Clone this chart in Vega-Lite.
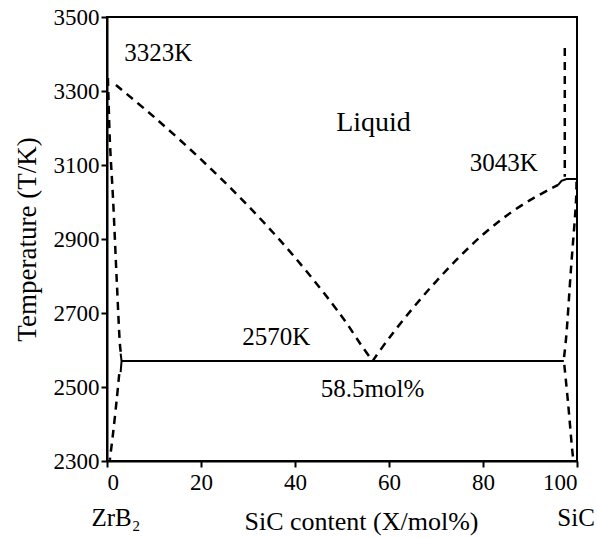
{
  "$schema": "https://vega.github.io/schema/vega-lite/v6.json",
  "width": 470,
  "height": 444,
  "autosize": {"type": "none"},
  "padding": {"left": 107, "top": 17, "right": 20, "bottom": 77},
  "background": "white",
  "config": {
    "font": "Liberation Serif",
    "view": {"stroke": "black", "strokeWidth": 2},
    "axis": {
      "domainColor": "black", "domainWidth": 2, "tickColor": "black", "tickWidth": 2, "ticks": true,
      "labelColor": "black", "titleColor": "black", "labelFont": "Liberation Serif",
      "titleFont": "Liberation Serif", "titleFontWeight": "normal", "grid": false, "zindex": 1
    }
  },
  "datasets": {
    "dashed": [
      {"series": "left liquidus", "o": 1, "x": 1.9, "y": 3316},
      {"series": "left liquidus", "o": 2, "x": 10, "y": 3230},
      {"series": "left liquidus", "o": 3, "x": 20, "y": 3115},
      {"series": "left liquidus", "o": 4, "x": 30, "y": 2990},
      {"series": "left liquidus", "o": 5, "x": 40, "y": 2850},
      {"series": "left liquidus", "o": 6, "x": 50, "y": 2690},
      {"series": "left liquidus", "o": 7, "x": 54, "y": 2615},
      {"series": "left liquidus", "o": 8, "x": 56.5, "y": 2570},
      {"series": "right liquidus", "o": 1, "x": 56.5, "y": 2570},
      {"series": "right liquidus", "o": 2, "x": 60, "y": 2632},
      {"series": "right liquidus", "o": 3, "x": 65, "y": 2712},
      {"series": "right liquidus", "o": 4, "x": 70, "y": 2785},
      {"series": "right liquidus", "o": 5, "x": 75, "y": 2852},
      {"series": "right liquidus", "o": 6, "x": 80, "y": 2912},
      {"series": "right liquidus", "o": 7, "x": 85, "y": 2963},
      {"series": "right liquidus", "o": 8, "x": 90, "y": 3005},
      {"series": "right liquidus", "o": 9, "x": 94, "y": 3033},
      {"series": "right liquidus", "o": 10, "x": 96, "y": 3046},
      {"series": "left solidus upper", "o": 1, "x": 0.2, "y": 3335},
      {"series": "left solidus upper", "o": 2, "x": 0.6, "y": 3168},
      {"series": "left solidus upper", "o": 3, "x": 1.3, "y": 3005},
      {"series": "left solidus upper", "o": 4, "x": 2.1, "y": 2781},
      {"series": "left solidus upper", "o": 5, "x": 2.8, "y": 2608},
      {"series": "left solidus upper", "o": 6, "x": 3.0, "y": 2590},
      {"series": "left solidus lower", "o": 1, "x": 2.6, "y": 2535},
      {"series": "left solidus lower", "o": 2, "x": 2.1, "y": 2470},
      {"series": "left solidus lower", "o": 3, "x": 1.3, "y": 2376},
      {"series": "left solidus lower", "o": 4, "x": 0.6, "y": 2303},
      {"series": "SiC vertical", "o": 1, "x": 97.4, "y": 3416},
      {"series": "SiC vertical", "o": 2, "x": 97.4, "y": 3068},
      {"series": "right solidus upper", "o": 1, "x": 99.9, "y": 3055},
      {"series": "right solidus upper", "o": 2, "x": 99.8, "y": 3005},
      {"series": "right solidus upper", "o": 3, "x": 98.7, "y": 2816},
      {"series": "right solidus upper", "o": 4, "x": 97.7, "y": 2635},
      {"series": "right solidus upper", "o": 5, "x": 97.2, "y": 2575},
      {"series": "right solidus lower", "o": 1, "x": 97.3, "y": 2560},
      {"series": "right solidus lower", "o": 2, "x": 98.1, "y": 2457},
      {"series": "right solidus lower", "o": 3, "x": 99.1, "y": 2316},
      {"series": "right solidus lower", "o": 4, "x": 99.3, "y": 2300}
    ],
    "solid": [
      {"series": "eutectic", "o": 1, "x": 3.1, "y": 2570},
      {"series": "eutectic", "o": 2, "x": 97.2, "y": 2570},
      {"series": "left bracket", "o": 1, "x": 2.9, "y": 2590},
      {"series": "left bracket", "o": 2, "x": 3.1, "y": 2570},
      {"series": "left bracket", "o": 3, "x": 2.9, "y": 2540},
      {"series": "SiC cap", "o": 1, "x": 96.0, "y": 3046},
      {"series": "SiC cap", "o": 2, "x": 96.7, "y": 3057},
      {"series": "SiC cap", "o": 3, "x": 97.8, "y": 3062},
      {"series": "SiC cap", "o": 4, "x": 100, "y": 3062}
    ],
    "labels": [
      {"label": "3323K", "x": 10.9, "y": 3403},
      {"label": "3043K", "x": 84.4, "y": 3105},
      {"label": "2570K", "x": 36.0, "y": 2635},
      {"label": "58.5mol%", "x": 56.5, "y": 2494},
      {"label": "ZrB₂", "x": 1.9, "y": 2146},
      {"label": "SiC", "x": 99.8, "y": 2146}
    ],
    "big": [
      {"label": "Liquid", "x": 56.7, "y": 3213}
    ]
  },
  "encoding": {
    "x": {
      "field": "x", "type": "quantitative",
      "scale": {"domain": [0, 100], "nice": false, "zero": false},
      "axis": {
        "title": "SiC content (X/mol%)", "values": [0, 20, 40, 60, 80, 100], "format": "d",
        "tickSize": 6, "labelPadding": 4, "labelFontSize": 23,
        "titleFontSize": 26, "titlePadding": 14, "titleX": 254
      }
    },
    "y": {
      "field": "y", "type": "quantitative",
      "scale": {"domain": [2300, 3500], "nice": false, "zero": false},
      "axis": {
        "title": "Temperature (T/K)", "values": [2300, 2500, 2700, 2900, 3100, 3300, 3500], "format": "d",
        "tickSize": 6, "labelPadding": 2, "labelFontSize": 23,
        "titleFontSize": 27, "titlePadding": 12
      }
    }
  },
  "layer": [
    {
      "data": {"name": "dashed"},
      "mark": {"type": "line", "color": "black", "strokeWidth": 2.5, "strokeDash": [8, 6], "interpolate": "catmull-rom", "clip": true},
      "encoding": {"detail": {"field": "series"}, "order": {"field": "o", "type": "quantitative"}}
    },
    {
      "data": {"name": "solid"},
      "mark": {"type": "line", "color": "black", "strokeWidth": 2, "interpolate": "linear", "clip": true},
      "encoding": {"detail": {"field": "series"}, "order": {"field": "o", "type": "quantitative"}}
    },
    {
      "data": {"name": "labels"},
      "mark": {"type": "text", "fontSize": 25, "color": "black", "baseline": "middle", "align": "center", "font": "Liberation Serif"},
      "encoding": {"text": {"field": "label"}}
    },
    {
      "data": {"name": "big"},
      "mark": {"type": "text", "fontSize": 28, "color": "black", "baseline": "middle", "align": "center", "font": "Liberation Serif"},
      "encoding": {"text": {"field": "label"}}
    }
  ]
}
